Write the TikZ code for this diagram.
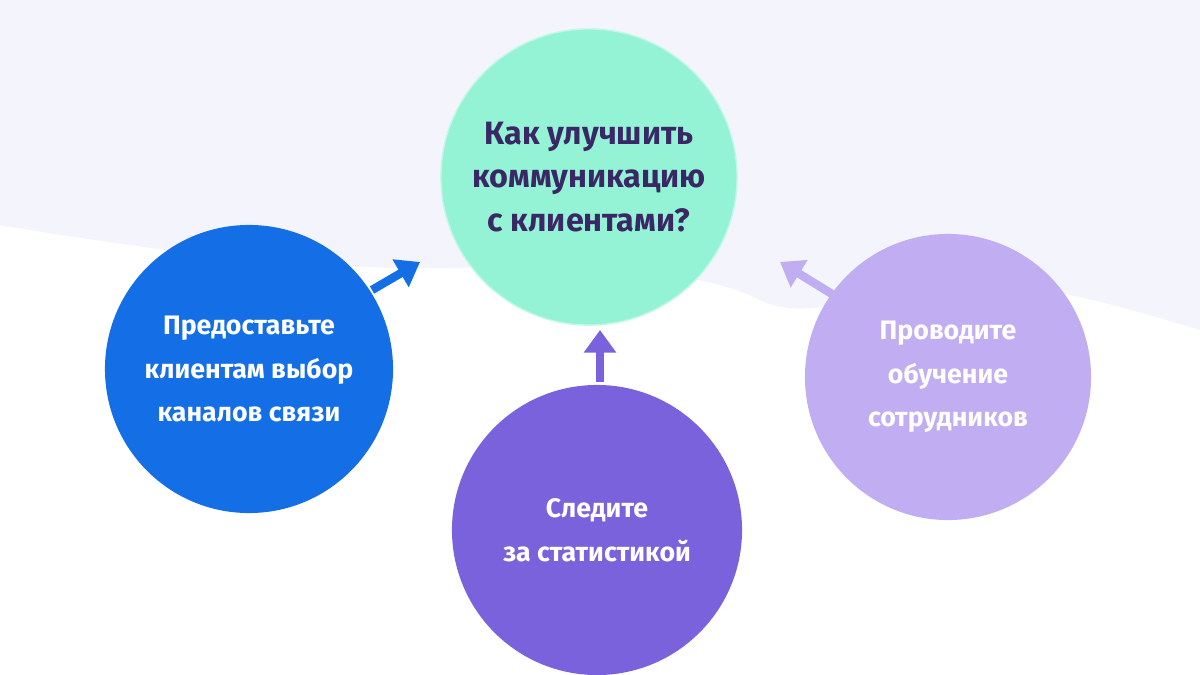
\documentclass[tikz,border=0pt]{standalone}
\usepackage{fontspec}
\setmainfont{Fira Sans}
\usetikzlibrary{arrows.meta}
\definecolor{bgl}{HTML}{F4F4FC}
\definecolor{cg}{HTML}{94F3D4}
\definecolor{cb}{HTML}{146FE6}
\definecolor{cp}{HTML}{7B62DD}
\definecolor{cl}{HTML}{C1ADF2}
\definecolor{tx}{HTML}{3A2866}
\tikzset{x=0.025cm,y=-0.025cm,
 circ/.style={circle,minimum size=#1*0.05cm,inner sep=0pt,align=center},
 wt/.style={text=white,font=\fontsize{19}{31}\selectfont\bfseries},
 arr/.style={line width=6pt,-{Triangle[length=16pt,width=22pt]}}}
\begin{document}
\begin{tikzpicture}
\useasboundingbox (0,0) rectangle (1200,675);
\fill[white] (0,0) rectangle (1200,675);
\fill[bgl] (0,0) -- (0,225) .. controls (150,250) and (300,270) .. (450,268)
 .. controls (600,265) and (700,270) .. (760,300) .. controls (800,320) and (850,300) .. (900,290)
 .. controls (1000,270) and (1100,300) .. (1200,330) -- (1200,0) -- cycle;
\node[circ=148,fill=cg,draw=cg!60!white,line width=1pt,text=tx,font=\fontsize{23}{31}\selectfont\bfseries] (q) at (589,177) {Как улучшить\\коммуникацию\\с клиентами?};
\node[circ=144,fill=cb,wt] (a) at (249,369) {Предоставьте\\клиентам выбор\\каналов связи};
\node[circ=145,fill=cp,wt] (b) at (597,530) {Следите\\за статистикой};
\node[circ=143,fill=cl,wt] (c) at (948,377) {Проводите\\обучение\\сотрудников};
\coordinate (a1) at (372,290); \coordinate (a2) at (420,262);
\coordinate (b1) at (600,382); \coordinate (b2) at (600,330);
\coordinate (c1) at (832,294); \coordinate (c2) at (780,262);
\draw[arr,cb] (a1) -- (a2);
\draw[arr,cp] (b1) -- (b2);
\draw[arr,cl] (c1) -- (c2);
\end{tikzpicture}
\end{document}
